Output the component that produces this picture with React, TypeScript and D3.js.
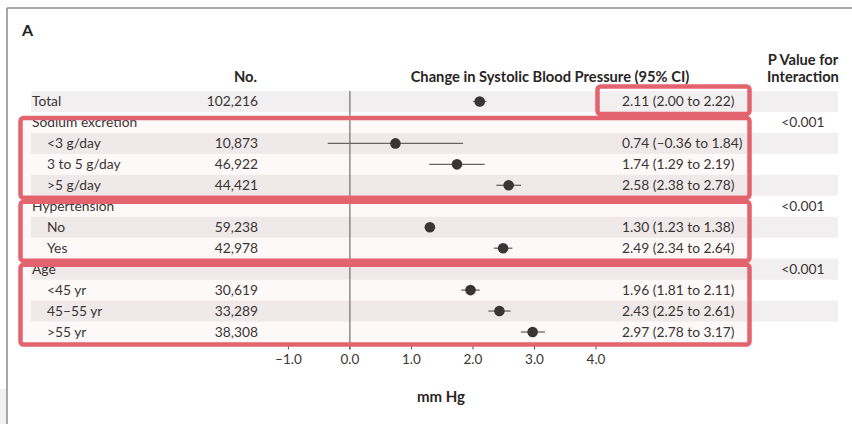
import React from "react";
import * as d3 from "d3";

// rows of the forest plot, top to bottom
const rowLabels = [
  "Total",
  "Sodium excretion",
  "<3 g/day",
  "3 to 5 g/day",
  ">5 g/day",
  "Hypertension",
  "No",
  "Yes",
  "Age",
  "<45 yr",
  "45–55 yr",
  ">55 yr",
];
const rowIsSub = [false, false, true, true, true, false, true, true, false, true, true, true];
const counts = [102216, null, 10873, 46922, 44421, null, 59238, 42978, null, 30619, 33289, 38308];
const estimates = [2.11, null, 0.74, 1.74, 2.58, null, 1.3, 2.49, null, 1.96, 2.43, 2.97];
const lowers = [2.0, null, -0.36, 1.29, 2.38, null, 1.23, 2.34, null, 1.81, 2.25, 2.78];
const uppers = [2.22, null, 1.84, 2.19, 2.78, null, 1.38, 2.64, null, 2.11, 2.61, 3.17];
const pValues = ["", "<0.001", "", "", "", "<0.001", "", "", "<0.001", "", "", ""];
const xTicks = [-1, 0, 1, 2, 3, 4];

// highlighted groups: [first row, last row]
const highlightGroups = [
  [1, 4],
  [5, 7],
  [8, 11],
];

const W = 852;
const H = 424;
const FONT = "Lato, 'Open Sans', sans-serif";
const TEXT = "#3a3535";
const RED = "#e3636e";
const FS = 13.8;

const fmtNum = (v: number) => v.toFixed(2).replace("-", "–");
const fmtTick = (v: number) => v.toFixed(1).replace("-", "–");

export default function App() {
  const x = d3.scaleLinear().domain([-1, 4]).range([288.4, 596]);
  const y = d3
    .scaleBand<number>()
    .domain(rowLabels.map((_, i) => i))
    .range([91, 342.5])
    .padding(0);
  const bw = y.bandwidth();
  const commas = d3.format(",");

  const boxLeft = 20.5;
  const boxRight = 749.5;
  const axisY = y(11)! + bw;

  return (
    <svg
      width={W}
      height={H}
      style={{ position: "absolute", left: 0, top: 0, background: "#fff" }}
      fontFamily={FONT}
    >
      {/* frame */}
      <rect x={0} y={389} width={6} height={35} fill="#f1f1f1" />
      <line x1={7} x2={W} y1={8} y2={8} stroke="#8a8a8a" strokeWidth={1.5} />
      <line x1={7} x2={7} y1={8} y2={H} stroke="#8a8a8a" strokeWidth={1.5} />

      <text x={22} y={36} fontSize={16} fontWeight="bold" fill="#222">
        A
      </text>

      {/* headers */}
      <g fontWeight="bold" fontSize={14.7} fill="#2a2525">
        <text x={257} y={82} textAnchor="end">No.</text>
        <text x={550} y={82} textAnchor="middle">
          Change in Systolic Blood Pressure (95% CI)
        </text>
        <text x={803} y={65} textAnchor="middle">P Value for</text>
        <text x={803} y={82} textAnchor="middle">Interaction</text>
      </g>

      {/* stripes */}
      {rowLabels.map((_, i) =>
        i % 2 === 0 ? (
          <rect key={"s" + i} x={31} y={y(i)} width={807} height={bw} fill="#f1efef" />
        ) : null
      )}

      {/* highlight fills */}
      {highlightGroups.map(([a, b], k) => (
        <rect
          key={"hf" + k}
          x={boxLeft}
          y={y(a)! + 6}
          width={boxRight - boxLeft}
          height={y(b)! + bw - y(a)! - 4}
          fill="rgba(227,99,110,0.04)"
        />
      ))}

      {/* zero line */}
      <line x1={x(0)} x2={x(0)} y1={91} y2={axisY + 7} stroke="#555" strokeWidth={1} />

      {/* ticks */}
      {xTicks.map((t) => (
        <g key={"t" + t}>
          <line x1={x(t)} x2={x(t)} y1={axisY + 2} y2={axisY + 7} stroke="#555" strokeWidth={1} />
          <text x={x(t)} y={axisY + 21} textAnchor="middle" fontSize={13.5} fill={TEXT}>
            {fmtTick(t)}
          </text>
        </g>
      ))}

      <text x={441} y={402} textAnchor="middle" fontSize={15} fontWeight="bold" fill="#2a2525">
        mm Hg
      </text>

      {/* rows */}
      {rowLabels.map((label, i) => {
        const cy = y(i)! + bw / 2;
        const est = estimates[i];
        const lo = lowers[i];
        const hi = uppers[i];
        return (
          <g key={"r" + i} fontSize={FS} fill={TEXT}>
            <text x={rowIsSub[i] ? 47 : 32} y={cy} dy="0.35em">
              {label}
            </text>
            {counts[i] != null && (
              <text x={258} y={cy} dy="0.35em" textAnchor="end">
                {commas(counts[i] as number)}
              </text>
            )}
            {est != null && lo != null && hi != null && (
              <>
                <line x1={x(lo)} x2={x(hi)} y1={cy} y2={cy} stroke="#6a6565" strokeWidth={1.3} />
                <circle cx={x(est)} cy={cy} r={5.3} fill="#3a3434" />
                <text x={622} y={cy} dy="0.35em">
                  {`${fmtNum(est)} (${fmtNum(lo)} to ${fmtNum(hi)})`}
                </text>
              </>
            )}
            {pValues[i] && (
              <text x={803} y={cy} dy="0.35em" textAnchor="middle">
                {pValues[i]}
              </text>
            )}
          </g>
        );
      })}

      {/* highlight boxes */}
      <rect
        x={597.5}
        y={y(0)! - 4.5}
        width={boxRight - 597.5}
        height={bw + 6.5}
        rx={3}
        fill="none"
        stroke={RED}
        strokeWidth={4.5}
      />
      {highlightGroups.map(([a, b], k) => (
        <rect
          key={"hb" + k}
          x={boxLeft}
          y={y(a)! + 6}
          width={boxRight - boxLeft}
          height={y(b)! + bw - y(a)! - 4}
          rx={3}
          fill="none"
          stroke={RED}
          strokeWidth={4.5}
        />
      ))}
    </svg>
  );
}
